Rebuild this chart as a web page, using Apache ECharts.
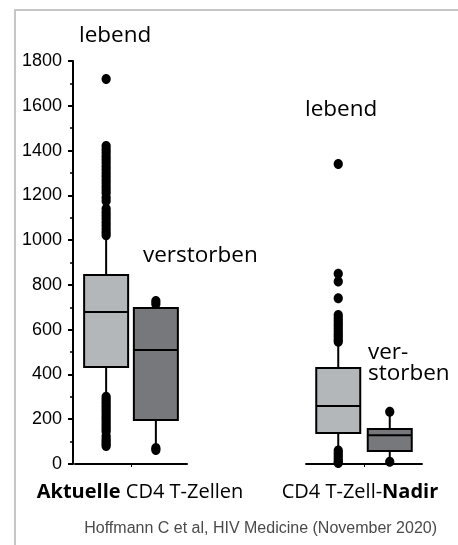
<!DOCTYPE html>
<html>
<head>
<meta charset="utf-8">
<script src="https://cdn.jsdelivr.net/npm/echarts@6/dist/echarts.min.js"></script>
<style>
  html, body { margin: 0; padding: 0; background: #fff; }
  #frame { position: absolute; left: 14px; top: 9px; width: 460px; height: 550px; border-left: 2px solid #c6c6c6; border-top: 2px solid #c6c6c6; }
  #chart { position: absolute; left: 0; top: 0; width: 458px; height: 545px; }
</style>
</head>
<body>
<div id="frame"></div>
<div id="chart"></div>
<script>
// Gruppen (x-Achse) und fett gedruckte Wörter
const groups = ['Aktuelle CD4 T-Zellen', 'CD4 T-Zell-Nadir']
const boldWords = ['Aktuelle', 'Nadir']

// y-Achse
const yMin = 0
const yMax = 1800
const yStep = 200

// Boxen: [min, Q1, Median, Q3, max]
const aktLebend = [305, 433, 679, 844, 1015]
const aktVerstorben = [75, 196, 509, 697, 705]
const nadirLebend = [65, 138, 259, 429, 530]
const nadirVerstorben = [22, 58, 128, 156, 222]

// Ausreißer
const aktLebendOut = [1720, 1420, 1405, 1390, 1375, 1360, 1345, 1330, 1315, 1300, 1285, 1270, 1255, 1240,
  1225, 1210, 1190, 1175, 1140, 1125, 1110, 1095, 1080, 1065, 1050, 1035, 1022,
  300, 288, 276, 264, 252, 240, 228, 216, 204, 192, 180, 168, 156, 145, 125, 112, 100, 90, 80]
const aktVerstorbenOut = [728, 715, 72, 62]
const nadirLebendOut = [1340, 850, 815, 740, 665, 652, 640, 628, 616, 604, 592, 580, 568, 556, 546,
  60, 48, 36, 24, 12, 5]
const nadirVerstorbenOut = [233, 10]

// Texte
const labelsTop = ['lebend', 'verstorben', 'lebend', 'ver-', 'storben']
const source = 'Hoffmann C et al, HIV Medicine (November 2020)'

const chart = echarts.init(document.getElementById('chart'))

// Box + Whisker zeichnen, seitlich versetzt innerhalb der Gruppe
function boxItem(side, fill) {
  return function (params, api) {
    const bw = api.size([1, 0])[0]
    const x = api.coord([0, 0])[0] + side * bw * 0.222
    const y = i => api.coord([0, api.value(i)])[1]
    const half = 22
    const line = { stroke: '#000', lineWidth: 2 }
    return {
      type: 'group',
      children: [
        { type: 'line', shape: { x1: x, y1: y(1), x2: x, y2: y(5) }, style: line },
        { type: 'rect', shape: { x: x - half, y: y(4), width: half * 2, height: y(2) - y(4) },
          style: { fill: fill, stroke: '#000', lineWidth: 2 } },
        { type: 'line', shape: { x1: x - half, y1: y(3), x2: x + half, y2: y(3) }, style: line }
      ]
    }
  }
}

function dotItem(side) {
  return function (params, api) {
    const bw = api.size([1, 0])[0]
    const p = api.coord([0, api.value(1)])
    return {
      type: 'ellipse',
      shape: { cx: p[0] + side * bw * 0.222, cy: p[1], rx: 4.6, ry: 5 },
      style: { fill: '#000' }
    }
  }
}

function boxSeries(idx, side, fill, vals) {
  return {
    type: 'custom',
    xAxisIndex: idx,
    yAxisIndex: idx,
    renderItem: boxItem(side, fill),
    encode: { x: 0, y: [1, 2, 3, 4, 5] },
    data: [[0].concat(vals)],
    z: 2
  }
}

function dotSeries(idx, side, vals) {
  return {
    type: 'custom',
    xAxisIndex: idx,
    yAxisIndex: idx,
    renderItem: dotItem(side),
    encode: { x: 0, y: 1 },
    data: vals.map(v => [0, v]),
    z: 3
  }
}

function xAxis(idx, pad) {
  return {
    type: 'category',
    gridIndex: idx,
    data: [groups[idx]],
    offset: 11,
    axisLine: { lineStyle: { color: '#000', width: 2 } },
    axisTick: { show: true, alignWithLabel: true, length: 3, lineStyle: { color: '#000', width: 1 } },
    axisLabel: {
      margin: 7,
      padding: pad,
      color: '#000',
      fontFamily: 'Open Sans',
      fontSize: 20,
      formatter: v => {
        let s = v
        boldWords.forEach(w => { s = s.replace(w, '{b|' + w + '}') })
        return s
      },
      rich: { b: { fontWeight: 'bold', fontFamily: 'Open Sans', fontSize: 20, color: '#000' } }
    }
  }
}

function yAxis(idx) {
  return {
    type: 'value',
    gridIndex: idx,
    show: idx === 0,
    min: yMin,
    max: yMax,
    interval: yStep,
    offset: 2,
    splitLine: { show: false },
    axisLine: { show: true, lineStyle: { color: '#000', width: 2 } },
    axisTick: { show: true, length: 5, lineStyle: { color: '#000', width: 2 } },
    minorTick: { show: true, splitNumber: 2, length: 3, lineStyle: { color: '#000', width: 1.5 } },
    axisLabel: {
      margin: 11,
      color: '#000',
      fontFamily: 'Liberation Sans',
      fontSize: 18,
      formatter: v => String(v)
    }
  }
}

const txt = (text, x, y, size) => ({
  type: 'text',
  x: x,
  y: y,
  style: { text: text, fill: '#000', font: size + 'px "Open Sans"', verticalAlign: 'middle' }
})

const option = {
  animation: false,
  grid: [
    { left: 75, right: 271, top: 61, bottom: 81 },
    { left: 306, right: 36, top: 61, bottom: 81 }
  ],
  xAxis: [xAxis(0, [0, 0, 0, 18]), xAxis(1, [0, 8, 0, 0])],
  yAxis: [yAxis(0), yAxis(1)],
  series: [
    boxSeries(0, -1, '#b4b7ba', aktLebend),
    boxSeries(0, 1, '#76787c', aktVerstorben),
    boxSeries(1, -1, '#b4b7ba', nadirLebend),
    boxSeries(1, 1, '#76787c', nadirVerstorben),
    dotSeries(0, -1, aktLebendOut),
    dotSeries(0, 1, aktVerstorbenOut),
    dotSeries(1, -1, nadirLebendOut),
    dotSeries(1, 1, nadirVerstorbenOut)
  ],
  graphic: [
    txt(labelsTop[0], 79, 36, 22.5),
    txt(labelsTop[1], 143, 256, 22.5),
    txt(labelsTop[2], 305, 110, 22.5),
    txt(labelsTop[3], 368, 353, 22.5),
    txt(labelsTop[4], 368, 374, 22.5),
    {
      type: 'text',
      x: 437,
      y: 529,
      style: { text: source, fill: '#4a4a4a', font: '16px "Liberation Sans"', align: 'right', verticalAlign: 'middle' }
    }
  ]
}

chart.setOption(option)
</script>
</body>
</html>
